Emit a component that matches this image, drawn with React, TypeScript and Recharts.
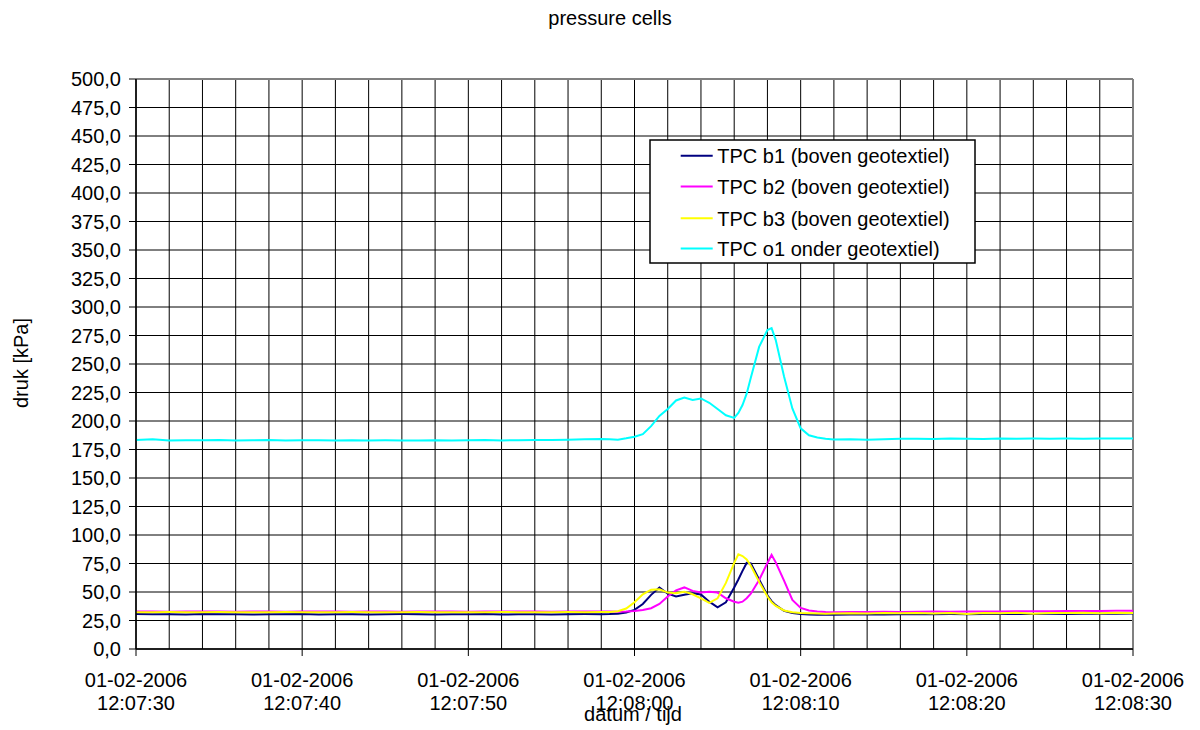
import React from 'react';
import { LineChart, Line, XAxis, YAxis, CartesianGrid, ReferenceLine } from 'recharts';

// Time axis in seconds after 12:07:30 (finer sampling around the passing load)
const seconds = [
  0, 1, 2, 3, 4, 5, 6, 7, 8, 9, 10, 11, 12, 13, 14, 15, 16, 17, 18, 19, 20, 21, 22, 23, 24, 25, 26, 27, 28,
  28.5, 29, 29.5, 30, 30.5, 31, 31.5, 32, 32.5, 33, 33.5, 34, 34.5, 35, 35.5, 36, 36.25, 36.5, 36.75, 37,
  37.5, 38, 38.25, 38.5, 39, 39.5, 40, 40.5, 41, 41.5, 42,
  43, 44, 45, 46, 47, 48, 49, 50, 51, 52, 53, 54, 55, 56, 57, 58, 59, 60,
];

// TPC b1 (boven geotextiel) [kPa]
const tpcB1 = [
  30.6, 30.4, 30.5, 30.3, 30.6, 30.4, 30.5, 30.2, 30.5, 30.4, 30.6, 30.3, 30.5, 30.4, 30.3, 30.5, 30.6, 30.4, 30.3,
  30.5, 30.4, 30.6, 30.3, 30.4, 30.5, 30.3, 30.4, 30.6, 30.5,
  30.6, 30.9, 32.0, 34.3, 39.5, 47.5, 54.0, 48.5, 46.0, 47.6, 48.8, 47.8, 41.5, 36.6, 41.0, 54.0, 61.0, 68.5,
  75.5, 75.0, 61.0, 47.0, 42.0, 38.5, 33.5, 31.5, 30.6, 30.2, 30.0, 30.0, 30.1,
  30.2, 30.3, 30.2, 30.4, 30.5, 30.4, 30.6, 30.5, 30.7, 30.6, 30.8, 30.7, 30.9, 30.8, 31.0, 30.9, 31.0, 31.1,
];

// TPC b2 (boven geotextiel) [kPa]
const tpcB2 = [
  32.8, 32.9, 32.7, 32.8, 33.0, 32.8, 32.7, 32.9, 32.8, 32.7, 32.9, 32.8, 33.0, 32.7, 32.8, 32.9, 32.7, 32.8, 32.9,
  32.8, 32.7, 32.9, 32.8, 32.8, 32.9, 32.7, 32.8, 32.9, 32.8,
  32.8, 32.7, 32.9, 33.4, 34.2, 35.8, 39.5, 46.0, 51.5, 54.0, 51.0, 49.5, 50.2, 49.5, 44.5, 41.5, 40.6, 41.5,
  44.5, 48.5, 60.5, 75.5, 82.5, 76.0, 60.0, 43.0, 36.0, 33.8, 32.8, 32.4, 32.3,
  32.4, 32.5, 32.6, 32.5, 32.7, 32.8, 32.7, 32.9, 33.0, 32.9, 33.1, 33.2, 33.1, 33.3, 33.4, 33.3, 33.5, 33.6,
];

// TPC b3 (boven geotextiel) [kPa]
const tpcB3 = [
  32.3, 32.2, 32.4, 32.3, 32.2, 32.4, 32.3, 32.2, 32.3, 32.4, 32.2, 32.3, 32.2, 32.4, 32.3, 32.2, 32.3, 32.4, 32.2,
  32.3, 32.3, 32.2, 32.4, 32.3, 32.2, 32.3, 32.4, 32.3, 32.4,
  32.5, 33.2, 35.5, 41.0, 48.0, 52.0, 52.3, 49.5, 49.0, 50.3, 48.0, 44.5, 40.5, 44.5, 58.0, 75.5, 83.0, 81.5,
  78.5, 73.0, 59.0, 46.0, 41.0, 37.8, 33.8, 32.3, 31.6, 31.3, 31.1, 31.0, 31.2,
  31.4, 31.2, 31.5, 31.3, 31.6, 31.2, 31.5, 30.8, 31.6, 31.4, 31.7, 31.0, 31.6, 31.5, 31.8, 31.3, 31.7, 31.6,
];

// TPC o1 (onder geotextiel) [kPa]
const tpcO1 = [
  183.4, 184.0, 183.0, 183.2, 183.1, 183.3, 183.0, 183.2, 183.3, 182.9, 183.2, 183.1, 183.0, 183.2, 183.0, 183.1,
  182.9, 183.0, 183.2, 183.0, 183.1, 183.3, 183.0, 183.2, 183.4, 183.3, 183.6, 183.9, 184.3,
  184.0, 183.6, 184.8, 186.2, 188.5, 195.5, 204.5, 210.5, 218.0, 220.5, 218.5, 219.8, 216.0, 210.5, 205.0, 202.7,
  207.0, 214.0, 224.0, 238.0, 265.0, 279.8, 281.5, 271.0, 239.0, 211.0, 193.6, 187.5, 185.6, 184.5, 183.8,
  184.0, 183.6, 184.1, 184.4, 184.5, 184.2, 184.6, 184.5, 184.3, 184.7, 184.5, 184.6, 184.4, 184.6, 184.5, 184.7,
  184.6, 184.6,
];

const tickSeconds = [0, 10, 20, 30, 40, 50, 60];
const tickDates = ['01-02-2006', '01-02-2006', '01-02-2006', '01-02-2006', '01-02-2006', '01-02-2006', '01-02-2006'];
const tickTimes = ['12:07:30', '12:07:40', '12:07:50', '12:08:00', '12:08:10', '12:08:20', '12:08:30'];
const yTicks = [0, 25, 50, 75, 100, 125, 150, 175, 200, 225, 250, 275, 300, 325, 350, 375, 400, 425, 450, 475, 500];
const gridSeconds = [0, 2, 4, 6, 8, 10, 12, 14, 16, 18, 20, 22, 24, 26, 28, 30, 32, 34, 36, 38, 40, 42, 44, 46, 48, 50, 52, 54, 56, 58, 60];

const series = [
  { key: 'b1', name: 'TPC b1 (boven geotextiel)', color: '#000080', values: tpcB1 },
  { key: 'b2', name: 'TPC b2 (boven geotextiel)', color: '#FF00FF', values: tpcB2 },
  { key: 'b3', name: 'TPC b3 (boven geotextiel)', color: '#FFFF00', values: tpcB3 },
  { key: 'o1', name: 'TPC o1 onder geotextiel)', color: '#00FFFF', values: tpcO1 },
];

const rows = seconds.map((t, i) => {
  const row: Record<string, number> = { t };
  series.forEach((s) => {
    row[s.key] = s.values[i];
  });
  return row;
});

const FONT = "'Liberation Sans', Arial, sans-serif";
const W = 1184;
const H = 722;

const formatKpa = (v: number) => v.toFixed(1).replace('.', ',');

const TimeTick = (props: any) => {
  const { x, y, payload } = props;
  const i = tickSeconds.indexOf(payload.value);
  return (
    <g>
      <text x={x} y={y + 29} textAnchor="middle" fontFamily={FONT} fontSize={20} fill="#000">
        {tickDates[i]}
      </text>
      <text x={x} y={y + 52} textAnchor="middle" fontFamily={FONT} fontSize={20} fill="#000">
        {tickTimes[i]}
      </text>
    </g>
  );
};

export default function App() {
  const legendRowBaselines = [155.3, 186, 217.7, 248];
  return (
    <div style={{ position: 'relative', width: W, height: H, background: '#fff' }}>
      <LineChart
        width={W}
        height={H}
        data={rows}
        margin={{ top: 71, right: 59, bottom: 21, left: 8 }}
      >
        <CartesianGrid
          stroke="#000"
          strokeWidth={1}
          horizontalValues={yTicks}
          verticalValues={gridSeconds}
        />
        <XAxis
          dataKey="t"
          type="number"
          domain={[0, 60]}
          ticks={tickSeconds}
          tick={<TimeTick />}
          tickSize={7}
          tickMargin={2}
          height={60}
          interval={0}
          stroke="#000"
          axisLine={{ stroke: '#000', strokeWidth: 1.5 }}
          tickLine={{ stroke: '#000' }}
        />
        <YAxis
          type="number"
          domain={[0, 500]}
          ticks={yTicks}
          interval={0}
          width={120}
          tickSize={7}
          tickMargin={8}
          tickFormatter={formatKpa}
          tick={{ fontFamily: FONT, fontSize: 20, fill: '#000' }}
          axisLine={{ stroke: '#000', strokeWidth: 1.5 }}
          tickLine={{ stroke: '#000' }}
        />
        <ReferenceLine y={500} stroke="#808080" strokeWidth={2} />
        <ReferenceLine x={60} stroke="#808080" strokeWidth={2} />
        {series.map((s) => (
          <Line
            key={s.key}
            dataKey={s.key}
            name={s.name}
            type="linear"
            stroke={s.color}
            strokeWidth={2}
            dot={false}
            isAnimationActive={false}
          />
        ))}
      </LineChart>
      <svg
        width={W}
        height={H}
        style={{ position: 'absolute', left: 0, top: 0, pointerEvents: 'none' }}
        fontFamily={FONT}
        fontSize={20}
      >
        <text x={602} y={17} textAnchor="middle" fill="#000">
          pressure cells
        </text>
        <text transform="translate(20,355) rotate(-90)" textAnchor="middle" fill="#000">
          druk [kPa]
        </text>
        <text x={625} y={713} textAnchor="middle" fill="#000">
          datum / tijd
        </text>
        <rect x={642} y={132} width={325} height={123} fill="#fff" stroke="#000" strokeWidth={1.5} />
        {series.map((s, i) => (
          <g key={s.key}>
            <line
              x1={672.7}
              x2={704.7}
              y1={legendRowBaselines[i] - 7.5}
              y2={legendRowBaselines[i] - 7.5}
              stroke={s.color}
              strokeWidth={2}
            />
            <text x={709.3} y={legendRowBaselines[i]} fill="#000">
              {s.name}
            </text>
          </g>
        ))}
      </svg>
    </div>
  );
}
